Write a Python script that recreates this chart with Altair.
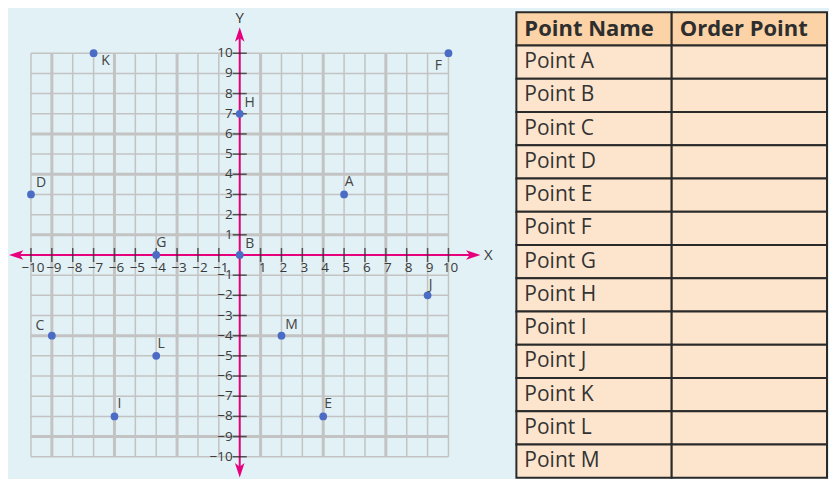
import altair as alt
import pandas as pd

# ---------------- data ----------------
point_names = ["A", "B", "C", "D", "E", "F", "G", "H", "I", "J", "K", "L", "M"]
point_x = [5, 0, -9, -10, 4, 10, -4, 0, -6, 9, -7, -4, 2]
point_y = [3, 0, -4, 3, -8, 10, 0, 7, -8, -2, 10, -5, -4]
label_side = ["up", "upright", "upleft", "upright", "up", "downleft", "up",
              "upright", "up", "upnear", "downright", "up", "upright"]

tick_values = [-10, -9, -8, -7, -6, -5, -4, -3, -2, -1, 1, 2, 3, 4, 5, 6, 7, 8, 9, 10]
tick_labels = ["−10", "−9", "−8", "−7", "−6", "−5", "−4", "−3", "−2", "−1",
               "1", "2", "3", "4", "5", "6", "7", "8", "9", "10"]
grid_values = list(range(-10, 11))
thick_x = [-9, -6, -3, 1, 4, 7]
thick_y = [6, 4, 1, -4, -9]

table_header = ["Point Name", "Order Point"]
table_rows = ["Point A", "Point B", "Point C", "Point D", "Point E", "Point F", "Point G",
              "Point H", "Point I", "Point J", "Point K", "Point L", "Point M"]
order_points = [""] * 13

# ---------------- style ----------------
BG = "#e1f1f5"
GRID = "#c3c3c3"
MAG = "#e6007e"
DOT = "#4a6cc4"
TXT = "#3a3a3a"
FONT = "Open Sans"

W1, H = 500, 470
xscale = alt.Scale(domain=[-11.1005, 12.823], nice=False, zero=False)
yscale = alt.Scale(domain=[-11.04, 12.228], nice=False, zero=False)


def X(f):
    return alt.X(f, type="quantitative", scale=xscale, axis=None)


def Y(f):
    return alt.Y(f, type="quantitative", scale=yscale, axis=None)


# grid
gv = pd.DataFrame({"x": grid_values, "lo": -10, "hi": 10})
gv["thick"] = gv["x"].isin(thick_x)
gh = pd.DataFrame({"y": grid_values, "lo": -10, "hi": 10})
gh["thick"] = gh["y"].isin(thick_y)

grid_v_thin = alt.Chart(gv).mark_rule(color=GRID, strokeWidth=1.5).encode(
    x=X("x"), y=Y("lo"), y2="hi")
grid_v_thick = alt.Chart(gv).transform_filter("datum.thick").mark_rule(
    color=GRID, strokeWidth=3).encode(x=X("x"), y=Y("lo"), y2="hi")
grid_h_thin = alt.Chart(gh).mark_rule(color=GRID, strokeWidth=1.5).encode(
    y=Y("y"), x=X("lo"), x2="hi")
grid_h_thick = alt.Chart(gh).transform_filter("datum.thick").mark_rule(
    color=GRID, strokeWidth=3).encode(y=Y("y"), x=X("lo"), x2="hi")

# axes lines
xaxis_df = pd.DataFrame({"lo": [-10.7], "hi": [11.1], "y": [0]})
yaxis_df = pd.DataFrame({"lo": [-10.7], "hi": [10.8], "x": [0]})
xaxis = alt.Chart(xaxis_df).mark_rule(color=MAG, strokeWidth=2).encode(
    x=X("lo"), x2="hi", y=Y("y"))
yaxis = alt.Chart(yaxis_df).mark_rule(color=MAG, strokeWidth=2).encode(
    y=Y("lo"), y2="hi", x=X("x"))

ARROW = "M0,-1L0.6,0.8L0,0.35L-0.6,0.8Z"
arrows_df = pd.DataFrame({
    "x": [-10.67, 11.15, 0, 0],
    "y": [0, 0, 10.89, -10.63],
    "a": [270, 90, 0, 180],
})
arrows = alt.Chart(arrows_df).mark_point(
    shape=ARROW, filled=True, size=256, color=MAG, opacity=1, strokeWidth=0
).encode(x=X("x"), y=Y("y"), angle=alt.Angle("a:Q", scale=None))

axis_names = alt.Chart(pd.DataFrame({"x": [11.91, 0], "y": [0, 11.76], "t": ["X", "Y"]})).mark_text(
    font=FONT, fontSize=15, color=TXT, baseline="middle", align="center"
).encode(x=X("x"), y=Y("y"), text="t:N")

# ticks
ticks_df = pd.DataFrame({"v": tick_values, "label": tick_labels, "z": 0})
xticks = alt.Chart(ticks_df).mark_tick(orient="vertical", size=14, thickness=1.5, color="#222").encode(
    x=X("v"), y=Y("z"))
yticks = alt.Chart(ticks_df).mark_tick(orient="horizontal", size=14, thickness=1.5, color="#222").encode(
    y=Y("v"), x=X("z"))
xlabels = alt.Chart(ticks_df).mark_text(
    font=FONT, fontSize=13.5, color=TXT, baseline="middle", align="center", dx=2, dy=13
).encode(x=X("v"), y=Y("z"), text="label:N")
ylabels = alt.Chart(ticks_df).mark_text(
    font=FONT, fontSize=13.5, color=TXT, baseline="middle", align="right", dx=-7
).encode(y=Y("v"), x=X("z"), text="label:N")

# points
pts = pd.DataFrame({"name": point_names, "x": point_x, "y": point_y, "side": label_side})
dots = alt.Chart(pts).mark_circle(size=60, color=DOT, opacity=1).encode(x=X("x"), y=Y("y"))

offsets = {"up": (5, -12), "upnear": (3, -10), "upright": (10, -11), "upleft": (-12, -10),
           "downleft": (-10, 13), "downright": (12, 8)}
label_layers = []
for side, (dx, dy) in offsets.items():
    label_layers.append(
        alt.Chart(pts).transform_filter(alt.datum.side == side).mark_text(
            font=FONT, fontSize=14, color="#444444", dx=dx, dy=dy,
            align="center", baseline="middle"
        ).encode(x=X("x"), y=Y("y"), text="name:N")
    )

plane = alt.layer(
    grid_v_thin, grid_h_thin, grid_v_thick, grid_h_thick,
    xaxis, yaxis, arrows, axis_names, xticks, yticks, xlabels, ylabels,
    dots, *label_layers
).properties(width=W1, height=H)

# ---------------- table ----------------
cells = []
for c, h in enumerate(table_header):
    cells.append({"r": 0, "c": c, "text": h, "kind": "header"})
for i, (name, op) in enumerate(zip(table_rows, order_points)):
    cells.append({"r": i + 1, "c": 0, "text": name, "kind": "body"})
    cells.append({"r": i + 1, "c": 1, "text": op, "kind": "body"})
tdf = pd.DataFrame(cells)
tdf["r2"] = tdf["r"] + 1
tdf["c2"] = tdf["c"] + 1
tdf["rm"] = tdf["r"] + 0.5

tx = alt.Scale(domain=[0, 2], nice=False, zero=False)
ty = alt.Scale(domain=[-0.12, 14], nice=False, zero=False, reverse=True)

cells_rect = alt.Chart(tdf).mark_rect(stroke="#2a2a2a", strokeWidth=2).encode(
    x=alt.X("c:Q", scale=tx, axis=None), x2="c2",
    y=alt.Y("r:Q", scale=ty, axis=None), y2="r2",
    fill=alt.Fill("kind:N", scale=alt.Scale(domain=["header", "body"],
                                            range=["#fbd3a6", "#fde5cd"]), legend=None),
)
header_text = alt.Chart(tdf).transform_filter(alt.datum.kind == "header").mark_text(
    font=FONT, fontSize=22, fontWeight="bold", color="#2e2e2e", align="left", baseline="middle", dx=8
).encode(x=alt.X("c:Q", scale=tx, axis=None), y=alt.Y("rm:Q", scale=ty, axis=None), text="text:N")
body_text = alt.Chart(tdf).transform_filter(alt.datum.kind == "body").mark_text(
    font=FONT, fontSize=21, color="#333333", align="left", baseline="middle", dx=8
).encode(x=alt.X("c:Q", scale=tx, axis=None), y=alt.Y("rm:Q", scale=ty, axis=None), text="text:N")

table = alt.layer(cells_rect, header_text, body_text).properties(width=311, height=H)

chart = alt.hconcat(plane, table, spacing=9, bounds="flush").properties(
    background=BG, padding={"left": 0, "top": 0, "right": 1, "bottom": 0}
).configure_view(stroke=None)

chart.save("out.html", embed_options={"renderer": "svg", "actions": False})
